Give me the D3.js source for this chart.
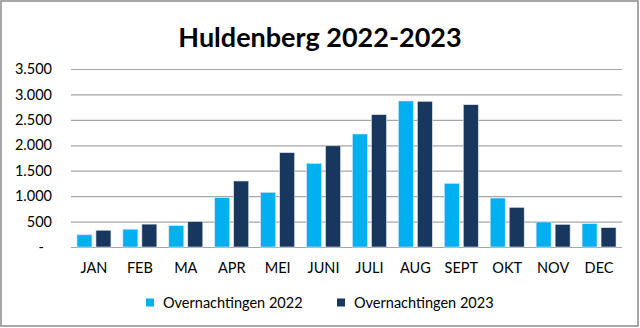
<!DOCTYPE html>
<html>
<head>
<meta charset="utf-8">
<script src="https://cdn.jsdelivr.net/npm/d3@7"></script>
<style>
  html, body { margin: 0; padding: 0; background: #fff; }
  svg { display: block; }
  text { font-family: Lato, "Open Sans", sans-serif; fill: #000; }
</style>
</head>
<body>
<svg id="chart" width="640" height="328"></svg>
<script>
const months = ["JAN","FEB","MA","APR","MEI","JUNI","JULI","AUG","SEPT","OKT","NOV","DEC"];
const seriesNames = ["Overnachtingen 2022", "Overnachtingen 2023"];
const values2022 = [240, 350, 420, 970, 1075, 1645, 2222, 2871, 1252, 963, 492, 458];
const values2023 = [330, 450, 500, 1298, 1855, 1990, 2602, 2865, 2798, 780, 446, 380];
const yTicks = [0, 500, 1000, 1500, 2000, 2500, 3000, 3500];
const titleText = "Huldenberg 2022-2023";
const colors = ["#00B0F0", "#17375E"];

(function () {
const svg = d3.select("#chart");
const pL = 71, pR = 622, pT = 69, pB = 247;

// frame
svg.append("rect").attr("x", 1).attr("y", 1).attr("width", 637).attr("height", 325)
  .attr("fill", "#fff").attr("stroke", "#8a8a8a").attr("stroke-width", 1.5);

const x0 = d3.scaleBand().domain(months).range([pL, pR]).paddingInner(0.26).paddingOuter(0.13);
const x1 = d3.scaleBand().domain([0, 1]).range([0, x0.bandwidth()]).paddingInner(0.21);
const y = d3.scaleLinear().domain([0, 3500]).range([pB, pT]);

const locale = d3.formatLocale({decimal: ",", thousands: ".", grouping: [3], currency: ["", ""]});
const fmt = locale.format(",d");

// gridlines
const yAxis = d3.axisLeft(y).tickValues(yTicks).tickSize(-(pR - pL)).tickFormat(d => d === 0 ? "-" : fmt(d));
const gy = svg.append("g").attr("transform", `translate(${pL},0)`).call(yAxis);
gy.select(".domain").remove();
gy.selectAll(".tick line").attr("stroke", "#a6a6a6").attr("stroke-width", 1.2);
gy.selectAll(".tick text").attr("x", -19).attr("font-size", 14.5).attr("fill", "#000")
  .attr("font-family", "Lato, sans-serif")
  .attr("dx", d => d === 0 ? -8 : 0);

// bars
const data = months.map((m, i) => ({m, v: [values2022[i], values2023[i]]}));
const groups = svg.append("g").selectAll("g").data(data).join("g")
  .attr("transform", d => `translate(${x0(d.m)},0)`);
groups.selectAll("rect").data(d => d.v.map((v, k) => ({v, k}))).join("rect")
  .attr("x", d => x1(d.k))
  .attr("width", x1.bandwidth())
  .attr("y", d => y(d.v))
  .attr("height", d => y(0) - y(d.v))
  .attr("fill", d => colors[d.k])
  .attr("stroke", "#dfe6ee").attr("stroke-width", 0.6);

// x axis labels
const xAxis = d3.axisBottom(x0).tickSize(0).tickPadding(0);
const gx = svg.append("g").attr("transform", `translate(0,${pB})`).call(xAxis);
gx.select(".domain").remove();
gx.selectAll(".tick text").attr("y", 16).attr("dy", "0.71em").attr("font-size", 14.5)
  .attr("fill", "#000").attr("font-family", "Lato, sans-serif");

// title
svg.append("text").attr("x", 320).attr("y", 47).attr("text-anchor", "middle")
  .attr("font-size", 27).attr("font-weight", "bold").text(titleText);

// legend
const legendX = [146, 337];
const lg = svg.append("g").selectAll("g").data(seriesNames).join("g")
  .attr("transform", (d, i) => `translate(${legendX[i]},298.5)`);
lg.append("rect").attr("width", 8).attr("height", 8).attr("fill", (d, i) => colors[i]);
lg.append("text").attr("x", 17).attr("y", 4).attr("dy", "0.35em").attr("font-size", 14.5).text(d => d);
})();
</script>
</body>
</html>
